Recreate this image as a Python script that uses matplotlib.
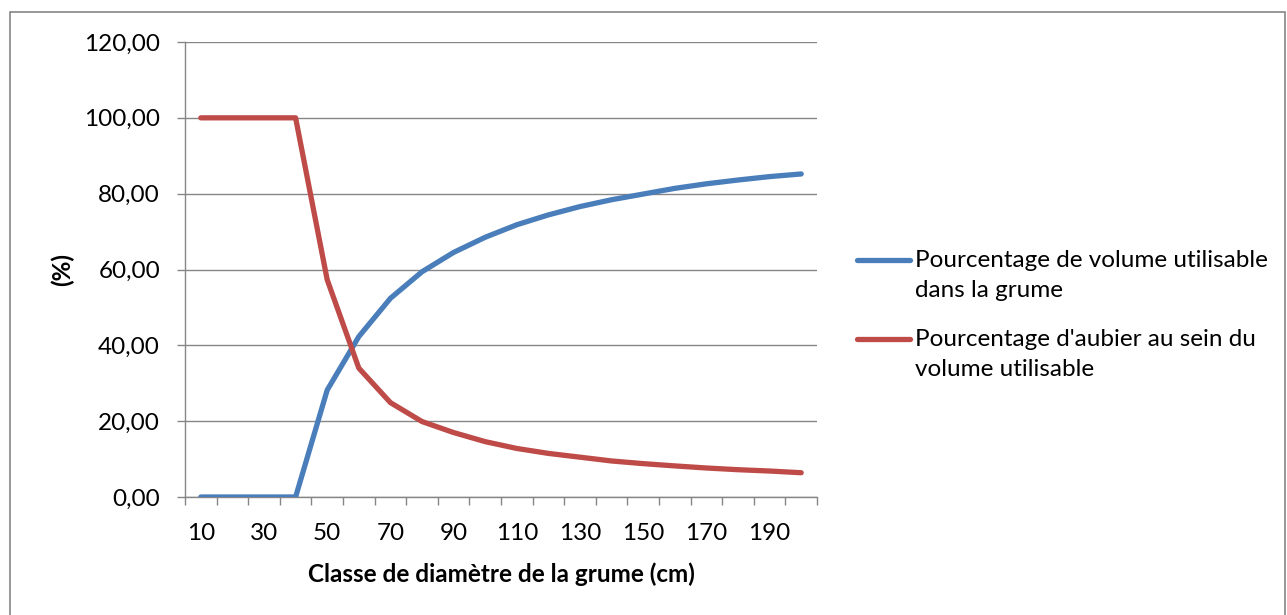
import matplotlib.pyplot as plt
from matplotlib.lines import Line2D
from matplotlib.patches import Rectangle
import numpy as np

# === Data ===
diametres = [10, 20, 30, 40, 50, 60, 70, 80, 90, 100,
             110, 120, 130, 140, 150, 160, 170, 180, 190, 200]
vol_utilisable = [0.0, 0.0, 0.0, 0.0, 28.2, 42.3, 52.4, 59.4, 64.5, 68.5,
                  71.8, 74.4, 76.6, 78.4, 79.9, 81.4, 82.6, 83.6, 84.5, 85.2]
aubier = [100.0, 100.0, 100.0, 100.0, 57.3, 34.0, 24.9, 19.9, 17.0, 14.6,
          12.8, 11.5, 10.5, 9.5, 8.8, 8.2, 7.65, 7.2, 6.85, 6.4]
labels = ["Pourcentage de volume utilisable\ndans la grume",
          "Pourcentage d'aubier au sein du\nvolume utilisable"]

color_blue = "#4A7EBB"
color_red = "#BE4B48"
grid_col = "#868686"
fs = 17.5

plt.rcParams["font.family"] = ["Lato", "DejaVu Sans"]

fig = plt.figure(figsize=(12.87, 6.15), dpi=100)
ax = fig.add_axes([185/1287, 1 - 497/615, (817 - 185)/1287, (497 - 42)/615])

x = np.arange(len(diametres))
ax.plot(x, vol_utilisable, color=color_blue, lw=3.8, solid_capstyle="round", zorder=3)
ax.plot(x, aubier, color=color_red, lw=3.8, solid_capstyle="round", zorder=3)

# Axes
ax.set_xlim(-0.5, len(diametres) - 0.5)
ax.set_ylim(0, 120)
ax.set_yticks(np.arange(0, 121, 20))
ax.set_yticklabels([f"{v:.2f}".replace(".", ",") for v in np.arange(0, 121, 20)], fontsize=fs)
ax.yaxis.grid(True, color=grid_col, lw=1.0)
ax.set_axisbelow(True)

# category axis: tick marks between categories, labels every other one
ax.set_xticks(np.arange(-0.5, len(diametres), 1.0))
ax.set_xticklabels([])
ax.set_xticks(x[::2], minor=True)
ax.set_xticklabels([str(d) for d in diametres[::2]], minor=True, fontsize=fs)
ax.tick_params(axis="x", which="major", length=6, width=1, color=grid_col, direction="out")
ax.tick_params(axis="x", which="minor", length=0, pad=19)
ax.tick_params(axis="y", length=6, width=1, color=grid_col, pad=12)

for s in ["top", "right"]:
    ax.spines[s].set_visible(False)
for s in ["left", "bottom"]:
    ax.spines[s].set_color(grid_col)
    ax.spines[s].set_linewidth(1.0)

ax.set_xlabel("Classe de diamètre de la grume (cm)", fontsize=fs, fontweight="bold", labelpad=13)
ax.set_ylabel("(%)", fontsize=fs, fontweight="bold", labelpad=7)

# Legend (handle aligned with first text line, like Excel)
for i, (lab, col) in enumerate([(labels[0], color_blue), (labels[1], color_red)]):
    y0 = 1 - (260 + i * 79) / 615
    fig.add_artist(Line2D([857/1287, 910/1287], [y0, y0], color=col, lw=3.8,
                          solid_capstyle="round"))
    fig.text(915/1287, y0 + 10/615, lab, fontsize=fs, va="top", ha="left",
             linespacing=1.5)

# outer chart border
fig.add_artist(Rectangle((10/1287, -0.01), (1285 - 10)/1287, 1 - 12/615 + 0.01,
                         transform=fig.transFigure, fill=False, ec=grid_col, lw=1.2))

plt.savefig("out.png", dpi=100)
